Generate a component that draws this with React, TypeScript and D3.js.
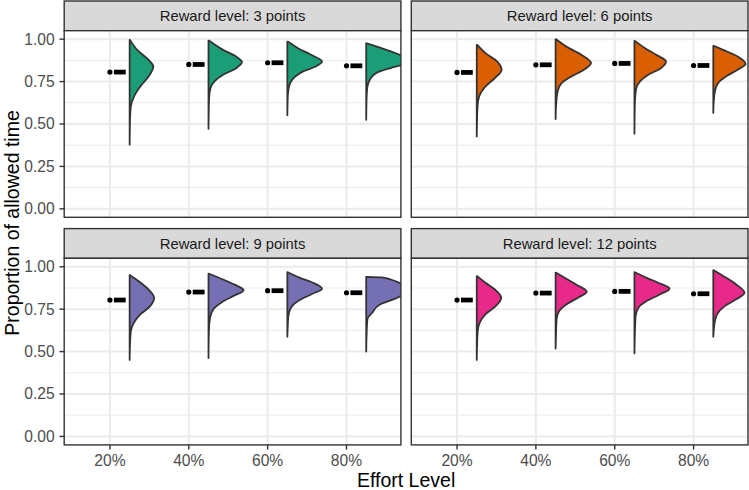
import React from "react";
import * as d3 from "d3";

// ---------- data ----------
const effortLevels = ["20%", "40%", "60%", "80%"];
const rewardLevels = [3, 6, 9, 12];
const fillColors = ["#1B9E77", "#D95F02", "#7570B3", "#E7298A"];
const yTicks = [0, 0.25, 0.5, 0.75, 1];
const yMinorTicks = [0.125, 0.375, 0.625, 0.875];

// mean proportion per effort level
const means3 = [0.806, 0.851, 0.861, 0.843];
const means6 = [0.804, 0.849, 0.857, 0.845];
const means9 = [0.804, 0.851, 0.859, 0.847];
const means12 = [0.804, 0.845, 0.855, 0.841];
// standard error per effort level
const se3 = [0.014, 0.014, 0.014, 0.014];
const se6 = [0.014, 0.014, 0.014, 0.014];
const se9 = [0.014, 0.014, 0.014, 0.014];
const se12 = [0.014, 0.014, 0.014, 0.014];

// half-violin profiles: [proportion, relative density]
const density3: [number, number][][] = [
  [[0.996, 0.01], [0.937, 0.19], [0.878, 0.48], [0.839, 0.6], [0.78, 0.48], [0.721, 0.27], [0.662, 0.11], [0.604, 0.03], [0.545, 0.012], [0.378, 0]],
  [[0.992, 0.01], [0.937, 0.37], [0.898, 0.7], [0.865, 0.85], [0.829, 0.7], [0.79, 0.37], [0.751, 0.15], [0.712, 0.05], [0.65, 0.015], [0.472, 0]],
  [[0.986, 0.01], [0.947, 0.27], [0.908, 0.6], [0.868, 0.88], [0.839, 0.72], [0.81, 0.4], [0.78, 0.2], [0.741, 0.07], [0.68, 0.015], [0.551, 0]],
  [[0.976, 0.01], [0.95, 0.35], [0.92, 0.72], [0.895, 0.95], [0.87, 1.02], [0.85, 0.92], [0.83, 0.62], [0.8, 0.25], [0.76, 0.09], [0.72, 0.03], [0.65, 0.01], [0.525, 0]],
];
const density6: [number, number][][] = [
  [[0.966, 0.01], [0.918, 0.22], [0.868, 0.52], [0.819, 0.63], [0.771, 0.46], [0.721, 0.22], [0.662, 0.06], [0.604, 0.02], [0.427, 0]],
  [[1.0, 0.01], [0.957, 0.27], [0.908, 0.65], [0.859, 0.9], [0.82, 0.72], [0.78, 0.4], [0.741, 0.15], [0.692, 0.05], [0.62, 0.015], [0.529, 0]],
  [[0.99, 0.01], [0.947, 0.27], [0.908, 0.55], [0.868, 0.8], [0.829, 0.67], [0.79, 0.35], [0.751, 0.14], [0.704, 0.04], [0.62, 0.01], [0.443, 0]],
  [[0.961, 0.01], [0.937, 0.25], [0.898, 0.62], [0.853, 0.82], [0.82, 0.62], [0.78, 0.32], [0.741, 0.12], [0.692, 0.04], [0.63, 0.01], [0.565, 0]],
];
const density9: [number, number][][] = [
  [[0.951, 0.01], [0.915, 0.23], [0.866, 0.48], [0.818, 0.62], [0.768, 0.52], [0.719, 0.27], [0.671, 0.11], [0.621, 0.03], [0.55, 0.01], [0.451, 0]],
  [[0.959, 0.01], [0.925, 0.37], [0.896, 0.65], [0.862, 0.89], [0.827, 0.62], [0.788, 0.32], [0.749, 0.12], [0.7, 0.04], [0.62, 0.01], [0.462, 0]],
  [[0.968, 0.01], [0.935, 0.32], [0.906, 0.65], [0.871, 0.88], [0.837, 0.6], [0.798, 0.27], [0.759, 0.09], [0.709, 0.025], [0.65, 0.01], [0.588, 0]],
  [[0.941, 0.0], [0.938, 0.4], [0.925, 0.62], [0.905, 0.84], [0.88, 0.98], [0.85, 0.98], [0.825, 0.85], [0.8, 0.6], [0.778, 0.35], [0.729, 0.15], [0.69, 0.03], [0.6, 0.01], [0.5, 0]],
];
const density12: [number, number][][] = [
  [[0.945, 0.01], [0.906, 0.22], [0.866, 0.46], [0.818, 0.62], [0.768, 0.48], [0.719, 0.22], [0.671, 0.075], [0.621, 0.025], [0.55, 0.01], [0.451, 0]],
  [[0.965, 0.01], [0.935, 0.23], [0.896, 0.52], [0.853, 0.79], [0.818, 0.57], [0.778, 0.27], [0.739, 0.09], [0.69, 0.025], [0.6, 0.01], [0.518, 0]],
  [[0.968, 0.01], [0.935, 0.31], [0.906, 0.6], [0.871, 0.89], [0.837, 0.64], [0.798, 0.31], [0.759, 0.1], [0.709, 0.03], [0.6, 0.01], [0.49, 0]],
  [[0.98, 0.01], [0.935, 0.33], [0.896, 0.58], [0.847, 0.79], [0.808, 0.58], [0.768, 0.29], [0.729, 0.12], [0.68, 0.04], [0.62, 0.01], [0.588, 0]],
];

const meansByReward = [means3, means6, means9, means12];
const seByReward = [se3, se6, se9, se12];
const densityByReward = [density3, density6, density9, density12];

// ---------- layout ----------
const W = 749;
const H = 490;
const FONT = "'Liberation Sans', Arial, Helvetica, sans-serif";
const panelW = 336.7;
const panelH = 186.6;
const stripH = 29.7;
const colX = [64.2, 411.3];
const rowTop = [30.7, 258.3];

export default function App() {
  const xCat = d3.scaleLinear().domain([0.42, 4.69]).range([0, panelW]);
  const yS = d3.scaleLinear().domain([-0.05, 1.05]).range([panelH, 0]);
  const wS = d3.scaleLinear().domain([0, 1]).range([0, 0.5]);

  const panels = rewardLevels.map((r, i) => {
    const px = colX[i % 2];
    const py = rowTop[Math.floor(i / 2)];
    const clipId = `clip-${i}`;
    const means = meansByReward[i];
    const ses = seByReward[i];
    const dens = densityByReward[i];
    return (
      <g key={r}>
        {/* strip */}
        <g transform={`translate(${px},${py - stripH})`}>
          <rect x={0} y={0} width={panelW} height={stripH} fill="#d9d9d9" stroke="#333333" strokeWidth={1.4} />
          <text x={panelW / 2} y={stripH / 2 + 5.2} textAnchor="middle" fontSize={14.8} fill="#1a1a1a" fontFamily={FONT}>
            {`Reward level: ${r} points`}
          </text>
        </g>
        <g transform={`translate(${px},${py})`}>
          <defs>
            <clipPath id={clipId}>
              <rect x={0} y={0} width={panelW} height={panelH} />
            </clipPath>
          </defs>
          <rect x={0} y={0} width={panelW} height={panelH} fill="#ffffff" />
          {yMinorTicks.map((t) => (
            <line key={`mi${t}`} x1={0} x2={panelW} y1={yS(t)} y2={yS(t)} stroke="#ebebeb" strokeWidth={1} />
          ))}
          {yTicks.map((t) => (
            <line key={`ma${t}`} x1={0} x2={panelW} y1={yS(t)} y2={yS(t)} stroke="#ebebeb" strokeWidth={2} />
          ))}
          {effortLevels.map((e, k) => (
            <line key={`vx${e}`} x1={xCat(k + 1)} x2={xCat(k + 1)} y1={0} y2={panelH} stroke="#ebebeb" strokeWidth={2} />
          ))}
          <g clipPath={`url(#${clipId})`}>
            {effortLevels.map((e, k) => {
              const base = xCat(k + 1.25);
              const area = d3
                .area<[number, number]>()
                .y((p) => yS(p[0]))
                .x0(base)
                .x1((p) => xCat(k + 1.25 + wS(p[1])))
                .curve(d3.curveMonotoneY);
              return (
                <path key={`v${e}`} d={area(dens[k]) || ""} fill={fillColors[i]} stroke="#333333" strokeWidth={1.8} strokeLinejoin="round" />
              );
            })}
            {effortLevels.map((e, k) => (
              <rect
                key={`eb${e}`}
                x={xCat(k + 1.05)}
                width={xCat(k + 1.2) - xCat(k + 1.05)}
                y={yS(means[k] + ses[k])}
                height={yS(means[k] - ses[k]) - yS(means[k] + ses[k])}
                fill="#000000"
              />
            ))}
            {effortLevels.map((e, k) => (
              <circle key={`pt${e}`} cx={xCat(k + 1)} cy={yS(means[k])} r={2.6} fill="#000000" />
            ))}
          </g>
          <rect x={0} y={0} width={panelW} height={panelH} fill="none" stroke="#333333" strokeWidth={1.4} />
          {/* y axis on left column */}
          {i % 2 === 0 &&
            yTicks.map((t) => (
              <g key={`yt${t}`}>
                <line x1={-4.7} x2={0} y1={yS(t)} y2={yS(t)} stroke="#333333" strokeWidth={1.4} />
                <text x={-9.5} y={yS(t) + 5.4} textAnchor="end" fontSize={15.6} fill="#4d4d4d" fontFamily={FONT}>
                  {d3.format(".2f")(t)}
                </text>
              </g>
            ))}
          {/* x axis on bottom row */}
          {Math.floor(i / 2) === 1 &&
            effortLevels.map((e, k) => (
              <g key={`xt${e}`}>
                <line x1={xCat(k + 1)} x2={xCat(k + 1)} y1={panelH} y2={panelH + 4.7} stroke="#333333" strokeWidth={1.4} />
                <text x={xCat(k + 1)} y={panelH + 21} textAnchor="middle" fontSize={15.6} fill="#4d4d4d" fontFamily={FONT}>
                  {e}
                </text>
              </g>
            ))}
        </g>
      </g>
    );
  });

  return (
    <svg
      width={W}
      height={H}
      viewBox={`0 0 ${W} ${H}`}
      style={{ position: "fixed", left: 0, top: 0, background: "#ffffff" }}
    >
      <rect x={0} y={0} width={W} height={H} fill="#ffffff" />
      {panels}
      <text x={(colX[0] + colX[1] + panelW) / 2} y={487} textAnchor="middle" fontSize={19.5} fill="#000000" fontFamily={FONT}>
        Effort Level
      </text>
      <text
        transform={`translate(18.5,${(1 + 445) / 2}) rotate(-90)`}
        textAnchor="middle"
        fontSize={19.5}
        fill="#000000"
        fontFamily={FONT}
      >
        Proportion of allowed time
      </text>
    </svg>
  );
}
